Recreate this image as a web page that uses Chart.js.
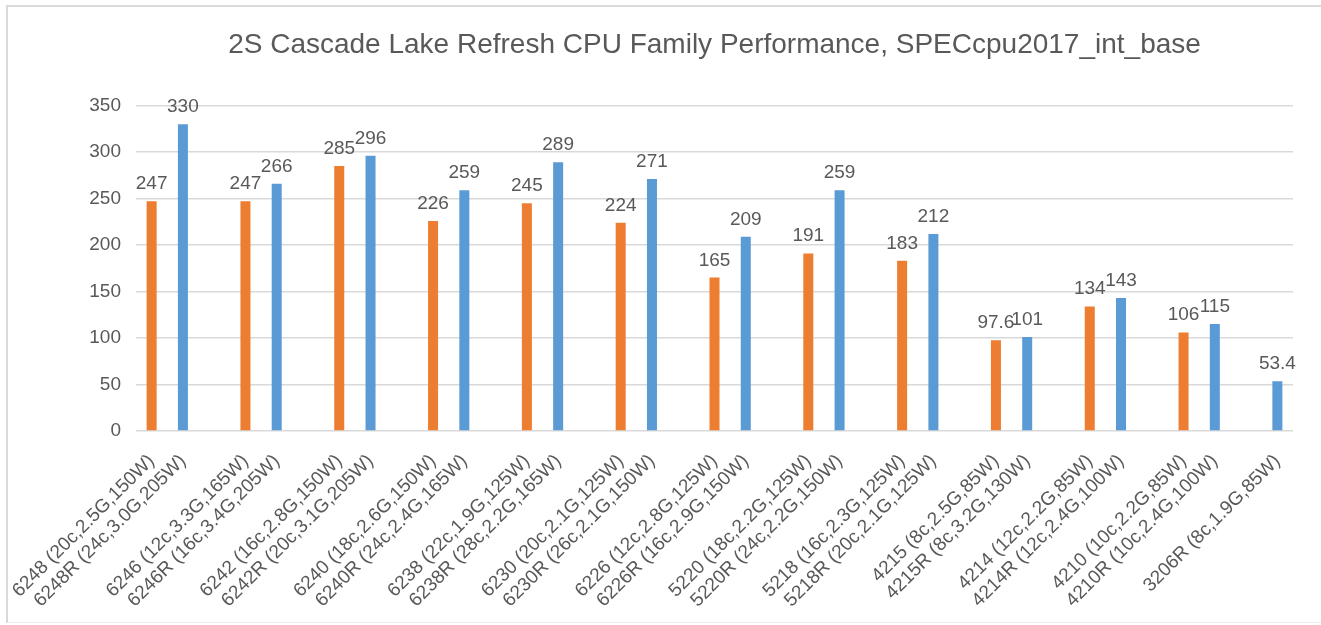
<!DOCTYPE html>
<html>
<head>
<meta charset="utf-8">
<script src="https://cdn.jsdelivr.net/npm/chart.js@4/dist/chart.umd.min.js"></script>
<style>
  html, body { margin: 0; padding: 0; background: #ffffff; overflow: hidden; }
  #wrap { position: absolute; left: 0; top: 0; width: 1321px; height: 625px; }
  #frame {
    position: absolute; left: 6px; top: 5px; width: 1315px; height: 618px;
    box-sizing: border-box; pointer-events: none;
    border-left: 2px solid #d9d9d9; border-top: 2px solid #d9d9d9; border-bottom: 1px solid #ececec;
  }
</style>
</head>
<body>
<div id="wrap"><canvas id="perf"></canvas></div>
<div id="frame"></div>
<script>
/* SPECcpu2017_int_base, 2S Cascade Lake vs Cascade Lake Refresh */

const FONT = "'Liberation Sans', Arial, sans-serif";
const TEXT = '#595959';
const GRID = '#d9d9d9';
const ORANGE = '#ed7d31';
const BLUE = '#5b9bd5';

// one slot per bar, empty slot between pairs
const cpuLabels = [
  '6248 (20c,2.5G,150W)', '6248R (24c,3.0G,205W)', '',
  '6246 (12c,3.3G,165W)', '6246R (16c,3.4G,205W)', '',
  '6242 (16c,2.8G,150W)', '6242R (20c,3.1G,205W)', '',
  '6240 (18c,2.6G,150W)', '6240R (24c,2.4G,165W)', '',
  '6238 (22c,1.9G,125W)', '6238R (28c,2.2G,165W)', '',
  '6230 (20c,2.1G,125W)', '6230R (26c,2.1G,150W)', '',
  '6226 (12c,2.8G,125W)', '6226R (16c,2.9G,150W)', '',
  '5220 (18c,2.2G,125W)', '5220R (24c,2.2G,150W)', '',
  '5218 (16c,2.3G,125W)', '5218R (20c,2.1G,125W)', '',
  '4215 (8c,2.5G,85W)', '4215R (8c,3.2G,130W)', '',
  '4214 (12c,2.2G,85W)', '4214R (12c,2.4G,100W)', '',
  '4210 (10c,2.2G,85W)', '4210R (10c,2.4G,100W)', '',
  '3206R (8c,1.9G,85W)',
];

const baseScores = [
  247, null, null,
  247, null, null,
  285, null, null,
  226, null, null,
  245, null, null,
  224, null, null,
  165, null, null,
  191, null, null,
  183, null, null,
  97.6, null, null,
  134, null, null,
  106, null, null,
  null,
];

const refreshScores = [
  null, 330, null,
  null, 266, null,
  null, 296, null,
  null, 259, null,
  null, 289, null,
  null, 271, null,
  null, 209, null,
  null, 259, null,
  null, 212, null,
  null, 101, null,
  null, 143, null,
  null, 115, null,
  53.4,
];

const yTicks = [0, 50, 100, 150, 200, 250, 300, 350];

/* value labels above the bars */
const barValues = {
  id: 'barValues',
  afterDatasetsDraw(chart) {
    const ctx = chart.ctx;
    ctx.save();
    ctx.font = '19px ' + FONT;
    ctx.fillStyle = TEXT;
    ctx.textAlign = 'center';
    ctx.textBaseline = 'alphabetic';
    chart.data.datasets.forEach((ds, i) => {
      chart.getDatasetMeta(i).data.forEach((bar, j) => {
        const v = ds.data[j];
        if (v == null) return;
        ctx.fillText(String(v), bar.x, bar.y - 12);
      });
    });
    ctx.restore();
  },
};

const el = document.getElementById('perf');
el.width = 1321;
el.height = 625;

new Chart(el, {
  type: 'bar',
  data: {
    labels: cpuLabels,
    datasets: [
      { label: 'Cascade Lake', data: baseScores, backgroundColor: ORANGE },
      { label: 'Cascade Lake Refresh', data: refreshScores, backgroundColor: BLUE },
    ],
  },
  options: {
    responsive: false,
    animation: false,
    devicePixelRatio: 1,
    grouped: false,
    categoryPercentage: 1,
    barPercentage: 0.32,
    layout: { padding: { left: 0, right: 28, top: 0, bottom: 0 } },
    plugins: {
      legend: { display: false },
      tooltip: { enabled: false },
      title: {
        display: true,
        fullSize: false,
        text: '2S Cascade Lake Refresh CPU Family Performance, SPECcpu2017_int_base',
        color: TEXT,
        font: { family: FONT, size: 28, weight: 'normal' },
        padding: { top: 28, bottom: 44 },
      },
    },
    scales: {
      x: {
        grid: { display: false },
        border: { display: false },
        ticks: {
          autoSkip: false,
          minRotation: 45,
          maxRotation: 45,
          padding: 11,
          color: TEXT,
          font: { family: FONT, size: 19 },
        },
        afterFit: s => { s.height = 194; },
      },
      y: {
        min: 0,
        max: 350,
        afterBuildTicks: s => { s.ticks = yTicks.map(v => ({ value: v })); },
        grid: { color: GRID, lineWidth: 1.5, drawTicks: false },
        border: { display: false },
        ticks: {
          padding: 15,
          color: TEXT,
          font: { family: FONT, size: 19 },
        },
        afterFit: s => { s.width = 136; },
      },
    },
  },
  plugins: [barValues],
});
</script>
</body>
</html>
